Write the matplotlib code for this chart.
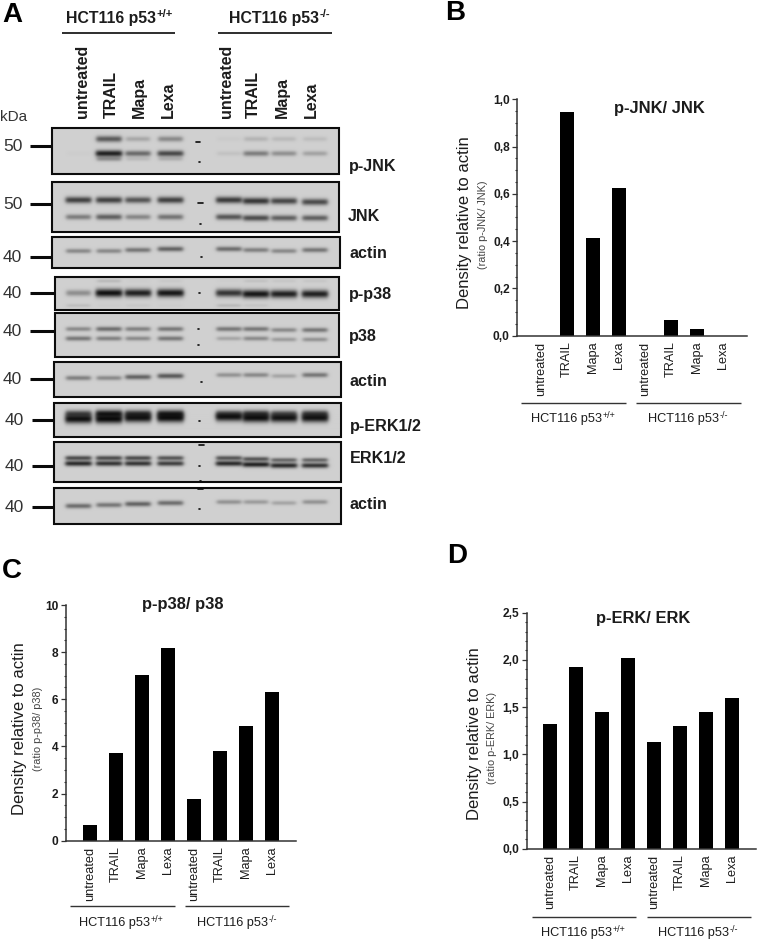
import numpy as np
import matplotlib
matplotlib.use("Agg")
import matplotlib.pyplot as plt
from matplotlib.patches import Rectangle

plt.rcParams['font.family'] = ['Liberation Sans', 'DejaVu Sans']

# ---------- data ----------
categories = ['untreated', 'TRAIL', 'Mapa', 'Lexa', 'untreated', 'TRAIL', 'Mapa', 'Lexa']
group_wt = 'HCT116 p53'
sup_wt = '+/+'
sup_ko = '-/-'

p_jnk_ratio = [0, 0.945, 0.415, 0.623, 0, 0.065, 0.027, 0]
p_p38_ratio = [0.67, 3.72, 7.05, 8.17, 1.75, 3.80, 4.88, 6.32]
p_erk_ratio = [1.32, 1.93, 1.45, 2.02, 1.13, 1.30, 1.45, 1.60]

b_ticks = [0, 0.2, 0.4, 0.6, 0.8, 1.0]
b_ticklabels = ['0,0', '0,2', '0,4', '0,6', '0,8', '1,0']
c_ticks = [0, 2, 4, 6, 8, 10]
c_ticklabels = ['0', '2', '4', '6', '8', '10']
d_ticks = [0, 0.5, 1.0, 1.5, 2.0, 2.5]
d_ticklabels = ['0,0', '0,5', '1,0', '1,5', '2,0', '2,5']

# densitometric darkness of each western-blot band, per lane
pjnk_upper = [0.00, 0.62, 0.22, 0.38, 0.03, 0.15, 0.12, 0.10]
pjnk_lower = [0.02, 0.92, 0.55, 0.72, 0.08, 0.45, 0.35, 0.25]
pjnk_faint = [0.00, 0.35, 0.12, 0.18, 0.00, 0.00, 0.00, 0.00]
jnk_upper = [0.75, 0.75, 0.65, 0.75, 0.78, 0.80, 0.72, 0.70]
jnk_lower = [0.45, 0.60, 0.40, 0.50, 0.65, 0.70, 0.60, 0.60]
actin_1 = [0.40, 0.40, 0.50, 0.60, 0.55, 0.45, 0.40, 0.50]
pp38_main = [0.35, 0.98, 0.90, 0.95, 0.80, 0.95, 0.90, 0.90]
pp38_above = [0.00, 0.15, 0.02, 0.05, 0.02, 0.10, 0.07, 0.07]
pp38_below = [0.12, 0.03, 0.06, 0.03, 0.15, 0.08, 0.00, 0.00]
p38_upper = [0.40, 0.55, 0.45, 0.50, 0.50, 0.50, 0.40, 0.50]
p38_lower = [0.50, 0.45, 0.40, 0.50, 0.25, 0.40, 0.30, 0.35]
actin_2 = [0.45, 0.40, 0.60, 0.65, 0.35, 0.40, 0.25, 0.50]
perk_upper = [0.70, 0.95, 0.80, 0.90, 0.60, 0.75, 0.60, 0.70]
perk_lower = [0.97, 1.00, 0.95, 0.97, 0.95, 0.97, 0.95, 0.95]
erk_upper = [0.75, 0.75, 0.75, 0.70, 0.70, 0.70, 0.60, 0.60]
erk_lower = [0.90, 0.85, 0.85, 0.80, 0.90, 0.95, 0.90, 0.85]
actin_3 = [0.55, 0.50, 0.60, 0.55, 0.35, 0.30, 0.25, 0.35]

# ---------- layout (pixels) ----------
W, H = 757, 941
fig = plt.figure(figsize=(W / 100, H / 100), dpi=100)
ov = fig.add_axes([0, 0, 1, 1], zorder=0)
ov.set_xlim(0, W)
ov.set_ylim(H, 0)
ov.axis('off')
renderer = fig.canvas.get_renderer()
INK = '#1c1c1c'
GRAY = '#333333'


def sup_label(x, y, main, sup, size, sup_size, weight='normal', color=INK):
    t = ov.text(x, y, main, fontsize=size, fontweight=weight, color=color, ha='left', va='center')
    w = t.get_window_extent(renderer).width
    ov.text(x + w + 0.5, y - size * 0.36, sup, fontsize=sup_size, fontweight=weight,
            color=color, ha='left', va='center')


def px_line(x0, x1, y0, y1, lw, color=INK, cap='butt'):
    ov.plot([x0, x1], [y0, y1], color=color, lw=lw, solid_capstyle=cap)


LANES = np.array([78.5, 109, 138, 170.5, 229, 256, 284, 315], float)
BG = 0.815
KERNEL = np.exp(-0.5 * (np.arange(-4, 5) / 1.6) ** 2)
KERNEL /= KERNEL.sum()


def soften(img):
    pad = 4
    out = np.pad(img, pad, mode='edge')
    out = np.apply_along_axis(lambda v: np.convolve(v, KERNEL, mode='same'), 0, out)
    out = np.apply_along_axis(lambda v: np.convolve(v, KERNEL, mode='same'), 1, out)
    return out[pad:-pad, pad:-pad]


def blot(box, rows, half_w=12.5):
    x0, x1, y0, y1 = box
    xs = np.arange(x0, x1, 0.5) + 0.25
    ys = np.arange(y0, y1, 0.5) + 0.25
    X, Y = np.meshgrid(xs, ys)
    img = np.full(X.shape, BG)
    for dark, yc, hh, off in rows:
        for lane, d, o in zip(LANES, dark, off):
            if d <= 0:
                continue
            hw = half_w * (0.92 + 0.14 * d)
            px = 0.5 * (np.tanh((X - lane + hw) / 2.0) - np.tanh((X - lane - hw) / 2.0))
            h = hh * (0.7 + 0.55 * d)
            py = np.exp(-((Y - yc - o) / h) ** 2)
            img *= 1 - 0.97 * d * px * py
    ov.imshow(soften(img), extent=(x0, x1, y1, y0), cmap='gray', vmin=0, vmax=1,
              aspect='auto', interpolation='bilinear', zorder=1)
    ov.add_patch(Rectangle((x0, y0), x1 - x0, y1 - y0, fill=False, ec='#0c0c0c', lw=1.5, zorder=2))


Z = [0] * 8
blot((52, 339, 128, 174), [(pjnk_upper, 139, 2.8, Z), (pjnk_lower, 153.5, 2.6, Z), (pjnk_faint, 159, 2.2, Z)])
blot((52, 339, 182, 232), [(jnk_upper, 200, 2.8, [0, 0, 0, 0, 0, 1, 1, 2]),
                           (jnk_lower, 217, 2.6, [0, 0, 0, 0, 0, 1, 1, 1])])
blot((52, 340, 237, 268), [(actin_1, 250, 2.2, [1, 1, 0, -1, -1, 0, 1, 0])])
blot((55, 339, 277, 310), [(pp38_main, 293, 3.2, [0, 0, 0, 0, 0, 1, 1, 1]),
                           (pp38_above, 281, 1.6, Z), (pp38_below, 305.5, 1.6, Z)])
blot((55, 339, 313, 357), [(p38_upper, 329, 2.1, [0, 0, 0, 0, 0, 0, 1, 1]),
                           (p38_lower, 338.5, 2.1, [0, 0, 0, 0, 0, 0, 1, 1])])
blot((54, 341, 362, 397), [(actin_2, 377, 2.2, [1, 1, 0, -1, -2, -2, -1, -2])])
blot((54, 341, 403, 437), [(perk_upper, 414.5, 3.0, [0, 0, 0, 0, 0, 0, 0, 0]),
                           (perk_lower, 419.5, 3.4, [0, 0, -1, -1, -2, -1, -1, -1])])
blot((54, 341, 442, 482), [(erk_upper, 458, 1.8, [0, 0, 0, 0, 0, 1, 2, 2]),
                           (erk_lower, 463.5, 2.0, [0, 0, 0, 0, 0, 1, 2, 2])])
blot((54, 341, 488, 524), [(actin_3, 505, 2.2, [1, 0, -1, -2, -3, -3, -2, -3])])

# ladder specks
for xa, xb, ya in [(196, 200, 141.5), (198, 203, 203), (199, 204, 445), (198, 203, 489),
                   (198.5, 199.5, 161.5), (200, 201, 223.5), (200.5, 201.5, 257),
                   (199, 200, 292.5), (198, 199, 328.7), (198, 199, 345), (200.5, 201.5, 381.5),
                   (198.5, 199.5, 420.5), (199, 200, 466), (199.5, 200.5, 481), (198.5, 199.5, 509)]:
    ov.plot([xa, xb], [ya, ya], color='#0a0a0a', lw=1.2, solid_capstyle='round', zorder=3)

# size markers
for y, lab, xs, xe, xt in [(145.7, '50', 30, 52, 3), (204, '50', 30, 52, 3), (256.7, '40', 30, 52, 3),
                           (292.7, '40', 30, 55, 3), (330.7, '40', 30, 55, 3), (379, '40', 30, 54, 3),
                           (420, '40', 32, 54, 5), (466, '40', 32, 54, 5), (507, '40', 32, 54, 5)]:
    px_line(xs, xe, y, y, 2.2, color='#0a0a0a')
    ov.text(xt, y + 0.5, lab, fontsize=12.5, color=GRAY, ha='left', va='center')
ov.text(0, 117, 'kDa', fontsize=11, color=GRAY, ha='left', va='center')

# right labels
for x, y, lab in [(349, 166, 'p-JNK'), (348, 216, 'JNK'), (349, 253, 'actin'), (349, 294, 'p-p38'),
                  (349, 336, 'p38'), (349, 381, 'actin'), (350, 427, 'p-ERK1/2'), (350, 458, 'ERK1/2'),
                  (350, 504, 'actin')]:
    ov.text(x, y, lab, fontsize=11.6, fontweight='bold', color=INK, ha='left', va='center')

# lane headers in panel A
for x, lab in zip([83, 111, 139, 168, 226, 253, 282, 311], categories):
    ov.text(x, 118, lab, rotation=90, fontsize=11.5, fontweight='bold', color=INK, ha='center', va='bottom')
sup_label(66, 18, group_wt, sup_wt, 11.4, 8, weight='bold')
sup_label(229, 18, group_wt, sup_ko, 11.4, 8, weight='bold')
px_line(62, 175, 33, 33, 1.3)
px_line(218, 332, 33, 33, 1.3)

# panel letters
for x, y, lab in [(2, 15, 'A'), (445, 13, 'B'), (2, 571, 'C'), (447, 556, 'D')]:
    ov.text(x, y, lab, fontsize=20, fontweight='bold', color='black', ha='left', va='center')


def bar_panel(values, ymax, ticks, ticklabels, minor_step, x_left, x_right, y_top, y_base, x_first,
              title, title_xy, ylab_xy, sub, sub_xy, lines, line_y, labs_x, lab_y):
    step = 26.0
    ax = fig.add_axes([x_left / W, 1 - y_base / H, (x_right - x_left) / W, (y_base - y_top) / H],
                      zorder=2)
    ax.patch.set_alpha(0)
    pos = np.arange(len(values))
    ax.bar(pos, values, width=0.55, color='black')
    ax.set_xlim((x_left - x_first) / step, (x_right - x_first) / step)
    ax.set_ylim(0, ymax)
    ax.set_xticks(pos, categories, rotation=90, fontsize=9.2, color=INK)
    ax.set_yticks(ticks, ticklabels, fontsize=8.6, fontweight='bold', color=INK)
    ax.set_yticks(np.arange(0, ymax + minor_step / 2, minor_step), minor=True)
    ax.tick_params(axis='x', length=0, pad=4.2)
    ax.tick_params(axis='y', which='major', length=3.4, width=0.9, color=GRAY, pad=2)
    ax.tick_params(axis='y', which='minor', length=1.6, width=0.8, color=GRAY)
    for s in ('top', 'right'):
        ax.spines[s].set_visible(False)
    for s in ('left', 'bottom'):
        ax.spines[s].set_color(GRAY)
        ax.spines[s].set_linewidth(1.1)
    ov.text(*title_xy, title, fontsize=11.9, fontweight='bold', color=INK, ha='center', va='center')
    ov.text(*ylab_xy, 'Density relative to actin', rotation=90, fontsize=12, color=INK, ha='center', va='center')
    ov.text(*sub_xy, sub, rotation=90, fontsize=7.8, color='#444444', ha='center', va='center')
    for a, b in lines:
        px_line(a, b, line_y, line_y, 1.0, color=GRAY)
    sup_label(labs_x[0], lab_y, group_wt, sup_wt, 9.2, 6.5)
    sup_label(labs_x[1], lab_y, group_wt, sup_ko, 9.2, 6.5)


bar_panel(p_jnk_ratio, 1.0, b_ticks, b_ticklabels, 0.05, 517.3, 746.7, 99.3, 335.7, 540.7,
          'p-JNK/ JNK', (659.5, 108), (464.5, 223), '(ratio p-JNK/ JNK)', (482.7, 225),
          [(521, 625.7), (635.7, 740.7)], 402.7, (530.7, 647.7), 419)
bar_panel(p_p38_ratio, 10, c_ticks, c_ticklabels, 0.5, 66, 295.7, 605, 840.7, 89.7,
          'p-p38/ p38', (182.7, 605), (19.8, 729), '(ratio p-p38/ p38)', (37.7, 729),
          [(70, 174.7), (185, 289)], 906, (79.3, 196.7), 922.7)
bar_panel(p_erk_ratio, 2.5, d_ticks, d_ticklabels, 0.1, 526.7, 756, 612.7, 848.7, 550,
          'p-ERK/ ERK', (643, 619), (474.5, 734), '(ratio p-ERK/ ERK)', (492, 737.7),
          [(531.7, 636), (646.7, 750.7)], 917, (541, 658.3), 933)

ov.set_xlim(0, W)
ov.set_ylim(H, 0)
fig.savefig('out.png', dpi=100)
